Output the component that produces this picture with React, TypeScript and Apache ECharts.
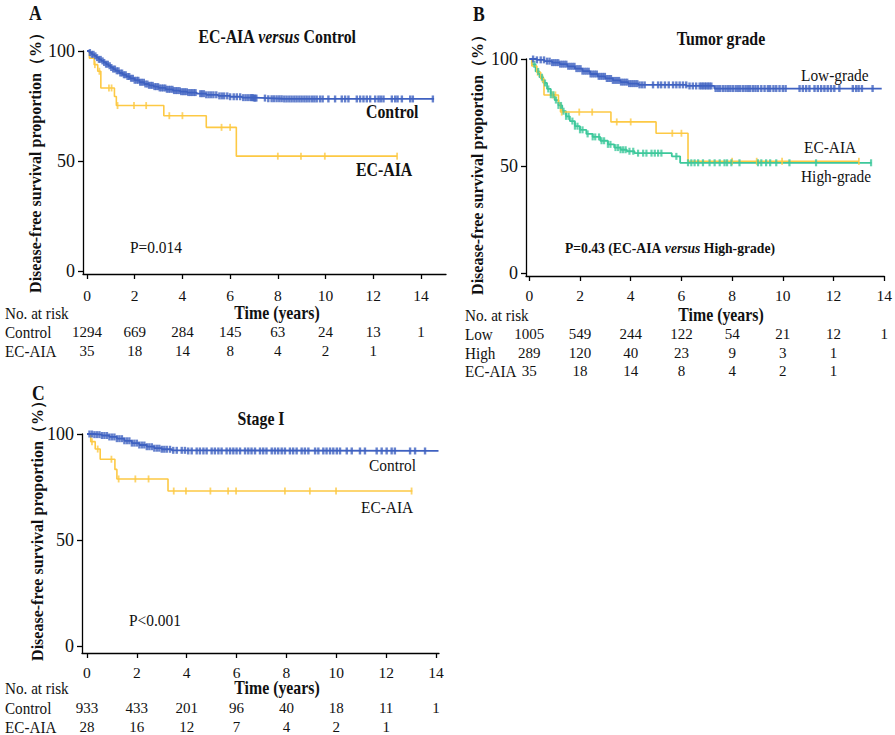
import React, { useEffect, useRef } from "react";
import * as echarts from "echarts";

const FONT = '"Liberation Serif", "Times New Roman", serif';
const BLUE = "#3F61C1";
const YELLOW = "#FDC944";
const GREEN = "#3DC89B";
const INK = "#111111";

const TICKS = [0, 2, 4, 6, 8, 10, 12, 14];
const Y_TICKS = [0, 50, 100];

// ---------- Panel A: EC-AIA versus Control ----------
const A_CTRL_T = [0, 0.1, 0.2, 0.3, 0.4, 0.5, 0.6, 0.7, 0.8, 0.9, 1.0, 1.1, 1.2, 1.35, 1.5, 1.65, 1.8, 2.0, 2.2, 2.4, 2.6, 2.8, 3.0, 3.3, 3.6, 3.9, 4.2, 4.6, 5.0, 5.5, 6.0, 6.5, 7.0, 7.6, 8.2];
const A_CTRL_S = [100, 99.3, 98.5, 97.8, 97.0, 96.2, 95.5, 94.8, 94.0, 93.3, 92.5, 91.8, 91.0, 90.0, 89.2, 88.4, 87.6, 86.7, 85.8, 85.0, 84.4, 83.8, 83.2, 82.6, 82.0, 81.5, 81.1, 80.6, 80.1, 79.6, 79.2, 78.8, 78.6, 78.3, 78.2];
const A_CTRL_END = 14.55;
const A_CTRL_CENS = [0.12, 0.2, 0.27, 0.35, 0.42, 0.5, 0.57, 0.65, 0.72, 0.8, 0.87, 0.95, 1.02, 1.1, 1.17, 1.25, 1.32, 1.4, 1.47, 1.55, 1.62, 1.7, 1.77, 1.85, 1.92, 2.0, 2.08, 2.15, 2.23, 2.3, 2.38, 2.45, 2.53, 2.6, 2.68, 2.75, 2.83, 2.9, 2.98, 3.05, 3.13, 3.2, 3.28, 3.35, 3.43, 3.5, 3.58, 3.65, 3.73, 3.8, 3.88, 3.95, 4.03, 4.1, 4.18, 4.25, 4.33, 4.4, 4.48, 4.55, 4.75, 4.82, 4.9, 5.0, 5.1, 5.2, 5.3, 5.42, 5.55, 5.65, 5.75, 5.88, 6.0, 6.15, 6.28, 6.42, 6.55, 6.65, 6.75, 6.85, 6.9, 6.95, 7.0, 7.05, 7.1, 7.46, 7.6, 7.74, 7.84, 7.95, 8.06, 8.16, 8.27, 8.37, 8.48, 8.58, 8.69, 8.79, 8.9, 9.0, 9.11, 9.21, 9.32, 9.43, 9.53, 9.63, 9.77, 9.88, 10.12, 10.4, 10.68, 10.82, 10.96, 11.31, 11.45, 11.59, 11.73, 11.87, 12.08, 12.22, 12.32, 12.43, 12.78, 12.92, 13.02, 13.2, 13.55, 13.66, 14.5];

// EC-AIA cohort (panels A and B)
const AIA_T = [0, 0.1, 0.3, 0.45, 0.58, 1.15, 1.23, 3.22, 5.0, 6.26];
const AIA_S = [100, 96.7, 93.8, 90.8, 83.2, 79.3, 75.2, 70.6, 65.3, 52.2];
const AIA_END = 13.0;
const AIA_CENS = [0.33, 0.52, 0.92, 1.03, 1.28, 1.97, 2.48, 3.45, 4.0, 5.64, 6.0, 8.0, 8.97, 9.97, 13.0];

const A_RISK_CTRL = [1294, 669, 284, 145, 63, 24, 13, 1];
const A_RISK_AIA = [35, 18, 14, 8, 4, 2, 1, null];

// ---------- Panel B: Tumor grade ----------
const B_LOW_T = [0, 0.3, 0.6, 0.9, 1.2, 1.5, 1.8, 2.1, 2.4, 2.7, 3.0, 3.3, 3.6, 3.9, 4.3, 6.2, 7.3];
const B_LOW_S = [100, 99.6, 99.0, 98.3, 97.6, 96.6, 95.5, 94.3, 93.0, 91.9, 90.9, 90.0, 89.2, 88.5, 87.9, 87.4, 86.2];
const B_LOW_END = 13.9;
const B_LOW_CENS = [0.15, 0.3, 0.45, 0.58, 0.7, 0.8, 0.9, 0.98, 1.06, 1.14, 1.22, 1.3, 1.38, 1.46, 1.54, 1.62, 1.7, 1.78, 1.86, 1.94, 2.02, 2.1, 2.18, 2.26, 2.34, 2.42, 2.5, 2.58, 2.66, 2.74, 2.82, 2.9, 2.98, 3.06, 3.14, 3.22, 3.3, 3.38, 3.46, 3.54, 3.62, 3.7, 3.78, 3.86, 3.94, 4.02, 4.1, 4.18, 4.26, 4.35, 4.45, 4.55, 4.88, 5.08, 5.2, 5.35, 5.5, 5.67, 5.8, 5.93, 6.06, 6.19, 6.32, 6.45, 6.58, 6.72, 6.79, 6.85, 6.92, 6.98, 7.05, 7.11, 7.18, 7.35, 7.44, 7.53, 7.64, 7.74, 7.84, 7.93, 8.03, 8.14, 8.23, 8.32, 8.43, 8.53, 8.62, 8.71, 8.82, 8.92, 9.02, 9.15, 9.28, 9.41, 9.5, 9.63, 9.74, 9.87, 10.0, 10.11, 10.66, 10.79, 10.92, 11.05, 11.25, 11.38, 11.51, 11.64, 11.77, 11.9, 12.03, 12.23, 12.76, 12.89, 12.99, 13.12, 13.54];

const B_HIGH_T = [0, 0.1, 0.25, 0.4, 0.55, 0.7, 0.85, 1.0, 1.15, 1.3, 1.45, 1.6, 1.8, 2.0, 2.25, 2.5, 2.8, 3.1, 3.35, 3.6, 3.85, 4.15, 5.62, 5.95];
const B_HIGH_S = [100, 97.5, 94.2, 91.5, 88.8, 86.0, 83.3, 80.8, 78.3, 75.6, 73.2, 71.0, 68.6, 66.9, 65.0, 63.6, 61.8, 60.1, 58.6, 57.6, 56.9, 56.0, 54.5, 51.5];
const B_HIGH_END = 13.5;
const B_HIGH_CENS = [0.2, 0.35, 0.5, 0.62, 0.75, 0.85, 0.95, 1.05, 1.15, 1.25, 1.35, 1.45, 1.55, 1.7, 1.8, 1.9, 2.0, 2.1, 2.3, 2.5, 2.6, 2.75, 2.85, 2.95, 3.1, 3.2, 3.4, 3.5, 3.6, 3.7, 3.8, 3.95, 4.1, 4.29, 4.49, 4.62, 4.82, 4.95, 5.08, 5.21, 5.8, 6.26, 6.39, 6.52, 6.66, 6.85, 7.11, 7.31, 7.51, 7.7, 7.8, 7.97, 8.29, 9.02, 9.15, 9.34, 9.5, 9.74, 10.26, 11.31, 13.48];

const B_RISK_LOW = [1005, 549, 244, 122, 54, 21, 12, 1];
const B_RISK_HIGH = [289, 120, 40, 23, 9, 3, 1, null];
const B_RISK_AIA = [35, 18, 14, 8, 4, 2, 1, null];

// ---------- Panel C: Stage I ----------
const C_CTRL_T = [0, 0.3, 0.6, 0.9, 1.2, 1.5, 1.8, 2.1, 2.4, 2.7, 3.0, 3.4, 4.0];
const C_CTRL_S = [100, 99.7, 99.3, 98.6, 97.8, 96.8, 95.7, 94.8, 94.0, 93.3, 92.8, 92.3, 92.0];
const C_CTRL_END = 14.1;
const C_CTRL_CENS = [0.1, 0.2, 0.3, 0.4, 0.5, 0.6, 0.7, 0.8, 0.9, 1.0, 1.1, 1.2, 1.3, 1.4, 1.5, 1.6, 1.7, 1.8, 1.9, 2.0, 2.1, 2.2, 2.3, 2.4, 2.5, 2.6, 2.7, 2.8, 2.9, 3.0, 3.1, 3.2, 3.33, 3.46, 3.6, 3.8, 3.93, 4.06, 4.2, 4.4, 4.53, 4.67, 4.8, 5.0, 5.13, 5.27, 5.4, 5.6, 5.74, 5.87, 6.0, 6.14, 6.34, 6.47, 6.6, 6.74, 6.94, 7.07, 7.2, 7.41, 7.54, 7.67, 7.81, 7.94, 8.14, 8.27, 8.41, 8.61, 8.74, 8.88, 9.15, 9.28, 9.48, 9.61, 9.75, 9.88, 10.02, 10.15, 10.42, 10.62, 10.95, 11.15, 11.62, 11.82, 12.02, 12.22, 12.35, 12.96, 13.16, 13.56];

const C_AIA_T = [0, 0.15, 0.33, 0.53, 1.12, 1.2, 3.25];
const C_AIA_S = [100, 96.4, 92.9, 88.1, 83.3, 78.8, 73.1];
const C_AIA_END = 13.05;
const C_AIA_CENS = [0.2, 0.43, 0.98, 1.27, 1.94, 2.47, 3.48, 3.97, 4.95, 5.66, 5.98, 7.94, 8.94, 9.99, 13.02];

const C_RISK_CTRL = [933, 433, 201, 96, 40, 18, 11, 1];
const C_RISK_AIA = [28, 16, 12, 7, 4, 2, 1, null];

// ---------- helpers ----------
function km(ts: number[], ss: number[], end: number) {
  const d = ts.map((t, i) => [t, ss[i]]);
  d.push([end, ss[ss.length - 1]]);
  return d;
}
function cens(times: number[], ts: number[], ss: number[]) {
  return times.map((t) => {
    let s = ss[0];
    for (let i = 0; i < ts.length; i++) if (ts[i] <= t) s = ss[i];
    return [t, s];
  });
}

function mainX(grid: number, min: number, max: number, margin: number) {
  return {
    type: "value", gridIndex: grid, min, max, position: "bottom",
    axisLine: { show: true, onZero: false, lineStyle: { color: "#000", width: 1.3 } },
    axisTick: { show: true, length: 5, customValues: TICKS, lineStyle: { color: "#000", width: 1.3 } },
    axisLabel: { customValues: TICKS, margin, fontSize: 15.5, fontFamily: FONT, color: INK },
    splitLine: { show: false },
  };
}
function riskX(grid: number, min: number, max: number, offset: number, vals: (number | null)[]) {
  return {
    type: "value", gridIndex: grid, min, max, position: "bottom", offset,
    axisLine: { show: false, onZero: false },
    axisTick: { show: false },
    splitLine: { show: false },
    axisLabel: {
      customValues: TICKS, margin: 0, fontSize: 15, fontFamily: FONT, color: INK,
      formatter: (v: number) => {
        const x = vals[Math.round(v / 2)];
        return x == null ? "" : String(x);
      },
    },
  };
}
function mainY(grid: number, min: number) {
  return {
    type: "value", gridIndex: grid, min, max: 100,
    axisLine: { show: true, onZero: false, lineStyle: { color: "#000", width: 1.3 } },
    axisTick: { show: true, length: 5, customValues: Y_TICKS, lineStyle: { color: "#000", width: 1.3 } },
    axisLabel: { customValues: Y_TICKS, margin: 8, fontSize: 18, fontFamily: FONT, color: INK },
    splitLine: { show: false },
  };
}
function curve(xi: number, yi: number, data: number[][], color: string, z = 2, w = 1.6) {
  return {
    type: "line", xAxisIndex: xi, yAxisIndex: yi, data, step: "end",
    showSymbol: false, symbol: "none", z,
    lineStyle: { color, width: w }, emphasis: { disabled: true },
  };
}
function marks(xi: number, yi: number, data: number[][], color: string, size: number[], z = 3) {
  return {
    type: "scatter", xAxisIndex: xi, yAxisIndex: yi, data, z,
    symbol: "rect", symbolSize: size, itemStyle: { color }, emphasis: { disabled: true },
  };
}
const SX = 0.88;
function txt(x: number, y: number, text: string, o: any = {}) {
  const el: any = {
    type: "text", x, y, z: 10,
    style: {
      text, fill: INK, fontFamily: FONT, fontSize: o.size || 15,
      fontWeight: o.bold ? "bold" : "normal", fontStyle: o.italic ? "italic" : "normal",
      align: o.align || "left", verticalAlign: "middle", rich: o.rich,
    },
    rotation: o.rot || 0,
  };
  if (o.sx) el.scaleX = o.sx;
  return el;
}
const titleRich = {
  b: { fontFamily: FONT, fontSize: 18, fontWeight: "bold", fill: INK },
  i: { fontFamily: FONT, fontSize: 18, fontWeight: "bold", fontStyle: "italic", fill: INK },
};
const pRich = {
  b: { fontFamily: FONT, fontSize: 15.5, fontWeight: "bold", fill: INK },
  i: { fontFamily: FONT, fontSize: 15.5, fontWeight: "bold", fontStyle: "italic", fill: INK },
};
const YNAME = "Disease-free survival proportion（%）";

export default function App() {
  const ref = useRef<HTMLDivElement>(null);
  useEffect(() => {
    if (!ref.current) return;
    const chart = echarts.init(ref.current, null, { renderer: "svg" });
    const AX = [-0.168, 15.05];
    const BX = [-0.13, 14];
    const CX = [-0.2, 14.12];
    const option: any = {
      animation: false,
      backgroundColor: "#ffffff",
      grid: [
        { left: 83, top: 51, width: 363, height: 223 },
        { left: 526, top: 59, width: 359, height: 217 },
        { left: 82, top: 434, width: 357, height: 219 },
      ],
      xAxis: [
        mainX(0, AX[0], AX[1], 13), // 0
        riskX(0, AX[0], AX[1], 50.5, A_RISK_CTRL), // 1
        riskX(0, AX[0], AX[1], 69.5, A_RISK_AIA), // 2
        mainX(1, BX[0], BX[1], 11.5), // 3
        riskX(1, BX[0], BX[1], 50.5, B_RISK_LOW), // 4
        riskX(1, BX[0], BX[1], 69.5, B_RISK_HIGH), // 5
        riskX(1, BX[0], BX[1], 87.5, B_RISK_AIA), // 6
        mainX(2, CX[0], CX[1], 11.5), // 7
        riskX(2, CX[0], CX[1], 47.5, C_RISK_CTRL), // 8
        riskX(2, CX[0], CX[1], 66.5, C_RISK_AIA), // 9
      ],
      yAxis: [mainY(0, -1.36), mainY(1, -1.4), mainY(2, -3.3)],
      series: [
        // A
        curve(0, 0, km(AIA_T, AIA_S, AIA_END), YELLOW),
        marks(0, 0, cens(AIA_CENS, AIA_T, AIA_S), YELLOW, [1.8, 7]),
        curve(0, 0, km(A_CTRL_T, A_CTRL_S, A_CTRL_END), BLUE, 4, 1.8),
        marks(0, 0, cens(A_CTRL_CENS, A_CTRL_T, A_CTRL_S), BLUE, [2.4, 7], 5),
        // B
        curve(3, 1, km(B_HIGH_T, B_HIGH_S, B_HIGH_END), GREEN, 2, 1.8),
        curve(3, 1, km(AIA_T, AIA_S, AIA_END), YELLOW, 3),
        marks(3, 1, cens(AIA_CENS, AIA_T, AIA_S), YELLOW, [1.8, 7], 4),
        marks(3, 1, cens(B_HIGH_CENS, B_HIGH_T, B_HIGH_S), GREEN, [2.2, 7], 5),
        curve(3, 1, km(B_LOW_T, B_LOW_S, B_LOW_END), BLUE, 4, 1.8),
        marks(3, 1, cens(B_LOW_CENS, B_LOW_T, B_LOW_S), BLUE, [2.4, 7], 5),
        // C
        curve(7, 2, km(C_AIA_T, C_AIA_S, C_AIA_END), YELLOW),
        marks(7, 2, cens(C_AIA_CENS, C_AIA_T, C_AIA_S), YELLOW, [1.8, 7]),
        curve(7, 2, km(C_CTRL_T, C_CTRL_S, C_CTRL_END), BLUE, 4, 1.8),
        marks(7, 2, cens(C_CTRL_CENS, C_CTRL_T, C_CTRL_S), BLUE, [2.4, 7], 5),
      ],
      graphic: [
        // Panel A
        txt(29, 13, "A", { size: 20, bold: true, sx: SX }),
        txt(277, 37, "{b|EC-AIA }{i|versus}{b| Control}", { align: "center", rich: titleRich, sx: SX }),
        txt(35, 159, YNAME, { size: 16, bold: true, align: "center", rot: Math.PI / 2 }),
        txt(366, 112, "Control", { size: 18, bold: true, sx: SX }),
        txt(356, 170, "EC-AIA", { size: 18, bold: true, sx: SX }),
        txt(130, 247, "P=0.014", { size: 17.5, sx: SX }),
        txt(277, 313, "Time (years)", { size: 18, bold: true, align: "center", sx: SX }),
        txt(5, 313, "No. at risk", { size: 16.5, sx: 0.92 }),
        txt(5, 332, "Control", { size: 16.5, sx: 0.92 }),
        txt(5, 351, "EC-AIA", { size: 16.5, sx: 0.92 }),
        // Panel B
        txt(473, 14, "B", { size: 20, bold: true, sx: SX }),
        txt(721, 39, "{b|Tumor grade}", { align: "center", rich: titleRich, sx: SX }),
        txt(477, 161, YNAME, { size: 16, bold: true, align: "center", rot: Math.PI / 2 }),
        txt(801, 75, "Low-grade", { size: 17.5, sx: SX }),
        txt(804, 147, "EC-AIA", { size: 17.5, sx: SX }),
        txt(801, 176, "High-grade", { size: 17.5, sx: SX }),
        txt(565, 248, "{b|P=0.43 (EC-AIA }{i|versus}{b| High-grade)}", { rich: pRich, sx: SX }),
        txt(721, 315, "Time (years)", { size: 18, bold: true, align: "center", sx: SX }),
        txt(465, 315, "No. at risk", { size: 16.5, sx: 0.92 }),
        txt(465, 334, "Low", { size: 16.5, sx: 0.92 }),
        txt(465, 353, "High", { size: 16.5, sx: 0.92 }),
        txt(465, 371, "EC-AIA", { size: 16.5, sx: 0.92 }),
        // Panel C
        txt(32, 393, "C", { size: 20, bold: true, sx: SX }),
        txt(261, 419, "{b|Stage I}", { align: "center", rich: titleRich, sx: SX }),
        txt(37, 527, YNAME, { size: 16, bold: true, align: "center", rot: Math.PI / 2 }),
        txt(369, 465, "Control", { size: 17.5, sx: SX }),
        txt(361, 507, "EC-AIA", { size: 17.5, sx: SX }),
        txt(129, 620, "P<0.001", { size: 17.5, sx: SX }),
        txt(277, 688, "Time (years)", { size: 18, bold: true, align: "center", sx: SX }),
        txt(5, 688, "No. at risk", { size: 16.5, sx: 0.92 }),
        txt(5, 708, "Control", { size: 16.5, sx: 0.92 }),
        txt(5, 727, "EC-AIA", { size: 16.5, sx: 0.92 }),
      ],
    };
    chart.setOption(option);
    return () => chart.dispose();
  }, []);
  return (
    <div
      ref={ref}
      style={{ position: "fixed", left: 0, top: 0, width: 895, height: 735, background: "#fff" }}
    />
  );
}
